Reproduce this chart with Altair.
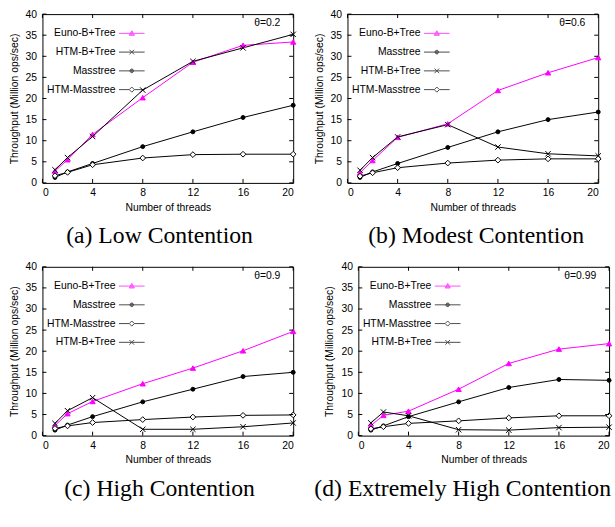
import altair as alt
import pandas as pd

threads = [1, 2, 4, 8, 12, 16, 20]
series_names = ["Euno-B+Tree", "HTM-B+Tree", "Masstree", "HTM-Masstree"]

# (a) low contention
a_euno = [2.8, 5.5, 11.5, 20.2, 28.6, 32.6, 33.4]
a_htm_bt = [3.1, 6.0, 11.0, 22.0, 28.8, 32.0, 35.2]
a_mass = [1.3, 2.6, 4.6, 8.6, 12.1, 15.5, 18.4]
a_htm_mass = [1.7, 2.5, 4.3, 5.9, 6.7, 6.8, 6.8]
# (b) modest contention
b_euno = [2.4, 5.3, 10.8, 14.0, 21.9, 26.1, 29.7]
b_htm_bt = [3.0, 6.0, 10.9, 13.8, 8.5, 6.9, 6.4]
b_mass = [1.3, 2.6, 4.6, 8.4, 12.1, 15.0, 16.8]
b_htm_mass = [1.6, 2.4, 3.6, 4.7, 5.4, 5.7, 5.7]
# (c) high contention
c_euno = [2.4, 5.2, 8.1, 12.3, 16.0, 20.1, 24.7]
c_htm_bt = [2.9, 5.9, 9.0, 1.5, 1.5, 2.1, 3.0]
c_mass = [1.3, 2.5, 4.5, 8.0, 11.0, 14.0, 15.0]
c_htm_mass = [1.7, 2.3, 3.1, 3.8, 4.4, 4.8, 4.9]
# (d) extremely high contention
d_euno = [2.4, 4.8, 5.8, 11.0, 17.1, 20.5, 21.8]
d_htm_bt = [3.0, 5.6, 4.7, 1.4, 1.3, 1.9, 2.0]
d_mass = [1.3, 2.3, 4.5, 8.0, 11.4, 13.3, 13.1]
d_htm_mass = [1.6, 2.1, 2.9, 3.5, 4.2, 4.7, 4.7]

thetas = ["θ=0.2", "θ=0.6", "θ=0.9", "θ=0.99"]
captions = ["(a) Low Contention", "(b) Modest Contention",
            "(c) High Contention", "(d) Extremely High Contention"]
legend_orders = [
    ["Euno-B+Tree", "HTM-B+Tree", "Masstree", "HTM-Masstree"],
    ["Euno-B+Tree", "Masstree", "HTM-B+Tree", "HTM-Masstree"],
    ["Euno-B+Tree", "Masstree", "HTM-Masstree", "HTM-B+Tree"],
    ["Euno-B+Tree", "Masstree", "HTM-Masstree", "HTM-B+Tree"],
]
x_ticks = [0, 4, 8, 12, 16, 20]
y_ticks = [0, 5, 10, 15, 20, 25, 30, 35, 40]

panel_values = [
    [a_euno, a_htm_bt, a_mass, a_htm_mass],
    [b_euno, b_htm_bt, b_mass, b_htm_mass],
    [c_euno, c_htm_bt, c_mass, c_htm_mass],
    [d_euno, d_htm_bt, d_mass, d_htm_mass],
]
caption_anchor = ["start", "start", "start", "end"]
caption_dx = [24, 21, 22, 2]

W, H = 254, 171
MAGENTA = "#ff00ff"
SANS = "Liberation Sans"
SERIF = "Liberation Serif"

stroke_map = {"Euno-B+Tree": MAGENTA, "HTM-B+Tree": "black",
              "Masstree": "black", "HTM-Masstree": "black"}
fill_map = {"Euno-B+Tree": MAGENTA, "HTM-B+Tree": "black",
            "Masstree": "black", "HTM-Masstree": "white"}
marker_shape = {"Euno-B+Tree": "triangle-up",
                "HTM-B+Tree": "M-1,-1L1,1M-1,1L1,-1",
                "Masstree": "circle",
                "HTM-Masstree": "diamond"}
marker_size = {"Euno-B+Tree": 28, "HTM-B+Tree": 30, "Masstree": 16, "HTM-Masstree": 34}
legend_paths = {
    "Euno-B+Tree": "M-1,0L1,0M0,-0.2L0.2,0.15L-0.2,0.15Z",
    "HTM-B+Tree": "M-1,0L1,0M-0.18,-0.18L0.18,0.18M-0.18,0.18L0.18,-0.18",
    "Masstree": "M-1,0L1,0M0.14,0A0.14,0.14 0 1 1 -0.14,0A0.14,0.14 0 1 1 0.14,0Z",
    "HTM-Masstree": "M-1,0L-0.2,0M0.2,0L1,0M0,-0.2L0.2,0L0,0.2L-0.2,0Z",
}


def panel(vals, order, theta, caption, anchor, dx):
    rows = []
    for name, ys in zip(series_names, vals):
        for t, v in zip(threads, ys):
            rows.append({"threads": t, "tput": v, "series": name})
    df = pd.DataFrame(rows)

    x_enc = alt.X("threads:Q", scale=alt.Scale(domain=[0, 20], nice=False),
                  axis=alt.Axis(values=x_ticks, title="Number of threads",
                                labelPadding=5, titlePadding=4))
    y_enc = alt.Y("tput:Q", scale=alt.Scale(domain=[0, 40], nice=False),
                  axis=alt.Axis(values=y_ticks, title="Throughput (Million ops/sec)",
                                labelPadding=6, titlePadding=6))

    color_scale = alt.Scale(domain=order, range=[stroke_map[s] for s in order])
    fill_scale = alt.Scale(domain=order, range=[fill_map[s] for s in order])
    shape_scale = alt.Scale(domain=order, range=[legend_paths[s] for s in order])

    leg = alt.Legend(orient="none", legendX=77, legendY=6, title=None,
                     labelFont=SANS, labelFontSize=10.5, labelColor="black",
                     labelAlign="right", labelOffset=alt.ExprRef(expr="-30"),
                     labelLimit=300,
                     symbolSize=676, symbolStrokeWidth=1, rowPadding=0,
                     padding=0)

    base = alt.Chart(df)
    lines = base.mark_line(strokeWidth=1).encode(
        x=x_enc, y=y_enc,
        color=alt.Color("series:N", scale=color_scale, legend=leg),
    )
    layers = [lines]
    for s in series_names:
        filled = s in ("Euno-B+Tree", "Masstree")
        pts = base.transform_filter(alt.datum.series == s).mark_point(
            shape=marker_shape[s], size=marker_size[s], filled=filled,
            fill=fill_map[s] if s != "HTM-B+Tree" else "transparent",
            stroke=stroke_map[s], strokeWidth=1, opacity=1,
        ).encode(x=x_enc, y=y_enc)
        layers.append(pts)

    legend_layer = base.transform_filter("datum.threads < 0").mark_point(
        filled=False, strokeWidth=1
    ).encode(
        x=x_enc, y=y_enc,
        color=alt.Color("series:N", scale=color_scale, legend=leg),
        fill=alt.Fill("series:N", scale=fill_scale, legend=leg),
        shape=alt.Shape("series:N", scale=shape_scale, legend=leg),
    )
    layers.append(legend_layer)

    ydf = pd.DataFrame({"tput": y_ticks})
    xdf = pd.DataFrame({"threads": x_ticks})
    tick_l = alt.Chart(ydf).mark_rule(color="black", strokeWidth=1).encode(
        y=y_enc, x=alt.value(0), x2=alt.value(4))
    tick_r = alt.Chart(ydf).mark_rule(color="black", strokeWidth=1).encode(
        y=y_enc, x=alt.value(W - 4), x2=alt.value(W))
    tick_b = alt.Chart(xdf).mark_rule(color="black", strokeWidth=1).encode(
        x=x_enc, y=alt.value(H), y2=alt.value(H - 4))
    tick_t = alt.Chart(xdf).mark_rule(color="black", strokeWidth=1).encode(
        x=x_enc, y=alt.value(0), y2=alt.value(4))
    layers += [tick_l, tick_r, tick_b, tick_t]

    tdf = pd.DataFrame({"t": [theta]})
    txt = alt.Chart(tdf).mark_text(align="right", baseline="middle", font=SANS,
                                   fontSize=10.5, color="black").encode(
        text="t:N", x=alt.value(W - 13), y=alt.value(9))
    layers.append(txt)

    return alt.layer(*layers).properties(
        width=W, height=H,
        title=alt.TitleParams(caption, orient="bottom", anchor=anchor, frame="group",
                              dx=dx, offset=12, font=SERIF, fontSize=24,
                              fontWeight="normal", color="black"),
    )


panels = [panel(panel_values[i], legend_orders[i], thetas[i], captions[i],
                caption_anchor[i], caption_dx[i]) for i in range(4)]

res = dict(color="independent", fill="independent", shape="independent")
top = alt.hconcat(panels[0], panels[1], spacing=14).resolve_scale(**res)
bottom = alt.hconcat(panels[2], panels[3], spacing=14).resolve_scale(**res)
chart = alt.vconcat(top, bottom, spacing=12).resolve_scale(**res).configure_view(
    stroke="black", strokeWidth=1
).configure_axis(
    ticks=False, domain=False, grid=False, labelFont=SANS, titleFont=SANS,
    labelFontSize=10.5, titleFontSize=10.5, labelColor="black", titleColor="black",
    titleFontWeight="normal"
).properties(background="white",
             padding={"left": 8, "top": 5, "right": 0, "bottom": 0})

chart.save("out.html", embed_options={"renderer": "svg", "actions": False})
